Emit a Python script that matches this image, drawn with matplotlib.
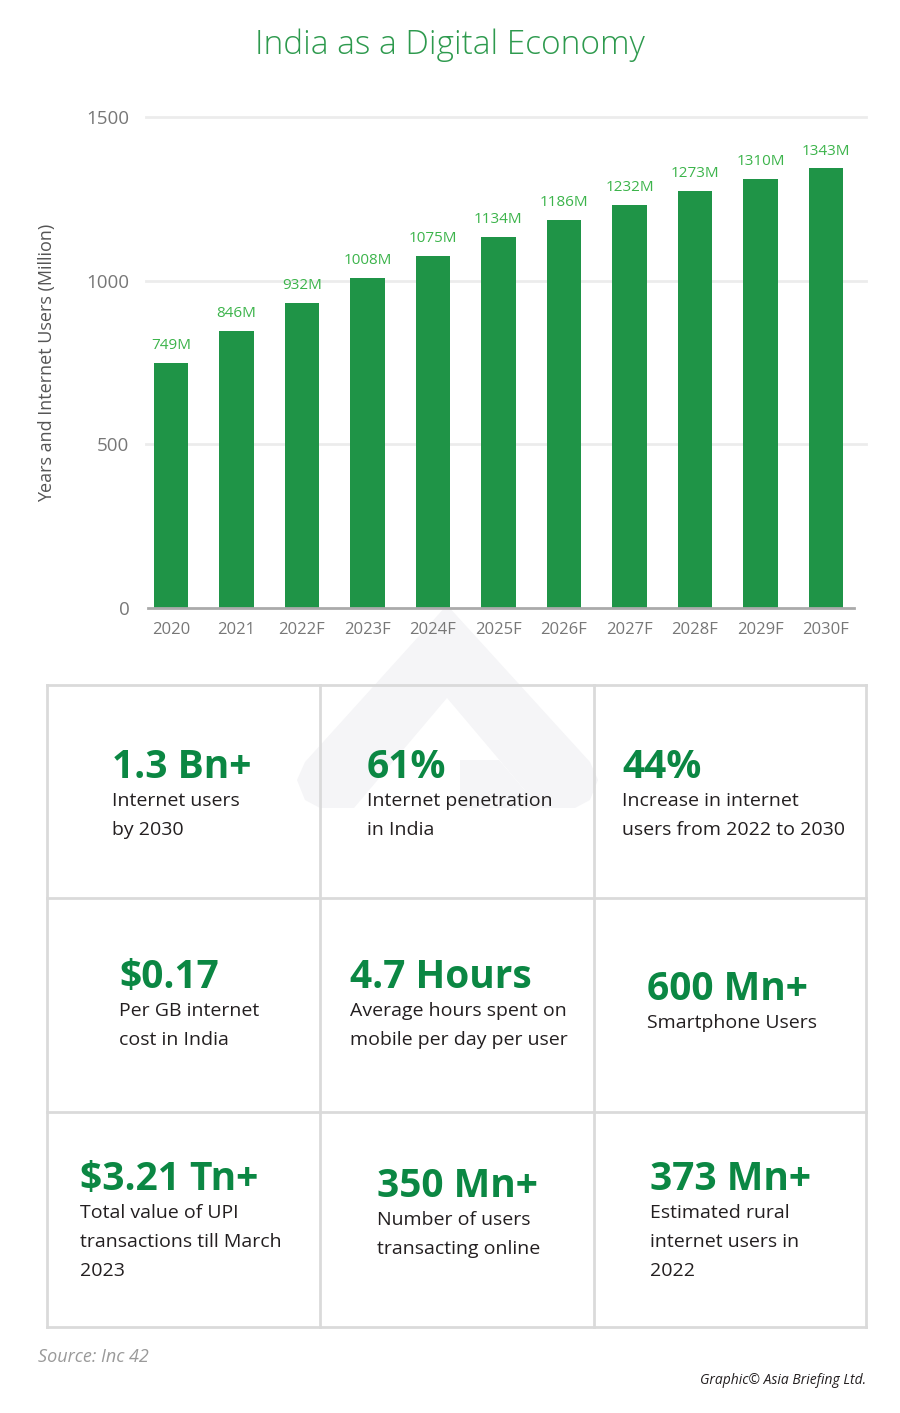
import numpy as np
import matplotlib.pyplot as plt
from matplotlib.patches import Polygon

years = ['2020', '2021', '2022F', '2023F', '2024F', '2025F', '2026F',
         '2027F', '2028F', '2029F', '2030F']
users = [749, 846, 932, 1008, 1075, 1134, 1186, 1232, 1273, 1310, 1343]
yticks = [0, 500, 1000, 1500]

stats = [
    ['1.3 Bn+', 'Internet users\nby 2030'],
    ['61%', 'Internet penetration\nin India'],
    ['44%', 'Increase in internet\nusers from 2022 to 2030'],
    ['$0.17', 'Per GB internet\ncost in India'],
    ['4.7 Hours', 'Average hours spent on\nmobile per day per user'],
    ['600 Mn+', 'Smartphone Users'],
    ['$3.21 Tn+', 'Total value of UPI\ntransactions till March\n2023'],
    ['350 Mn+', 'Number of users\ntransacting online'],
    ['373 Mn+', 'Estimated rural\ninternet users in\n2022'],
]
# left edge and big-number top (pixels) for each cell
stat_pos = [(112, 748), (367, 748), (622, 748),
            (119, 958), (350, 958), (647, 970),
            (80, 1160), (377, 1167), (650, 1160)]

bar_green = '#1f9447'
label_green = '#3cb44b'
big_green = '#0b8743'

W, H = 900, 1413
fig = plt.figure(figsize=(W / 100, H / 100), dpi=100)

# overlay in pixel coordinates
bg = fig.add_axes([0, 0, 1, 1])
bg.set_xlim(0, W)
bg.set_ylim(H, 0)
bg.axis('off')
bg.set_zorder(0)

# faint watermark logo
wm = '#f5f5f7'
outer = [(447, 605), (590, 762), (598, 780), (590, 800), (575, 808),
         (320, 808), (305, 800), (297, 780), (305, 762)]
inner = [(447, 698), (540, 808), (354, 808)]
notch = [(460, 760), (499, 760), (540, 808), (460, 808)]
bg.add_patch(Polygon(outer, closed=True, color=wm, lw=0, zorder=0))
bg.add_patch(Polygon(inner, closed=True, color='white', lw=0, zorder=0))
bg.add_patch(Polygon(notch, closed=True, color=wm, lw=0, zorder=0))

# stats grid
gc = '#dadada'
for x in [47, 320, 594, 866]:
    bg.plot([x, x], [685, 1327], color=gc, lw=2, zorder=1)
for y in [685, 898, 1112, 1327]:
    bg.plot([47, 866], [y, y], color=gc, lw=2, zorder=1)

for (big, desc), (x, y) in zip(stats, stat_pos):
    bg.text(x, y, big, fontsize=28, fontweight='bold', color=big_green,
            family='Open Sans', va='top', ha='left', zorder=2)
    bg.text(x, y + 44, desc, fontsize=14, color='#231f20', family='Open Sans',
            va='top', ha='left', linespacing=1.78, zorder=2)

bg.text(450, 45, 'India as a Digital Economy', fontsize=24, color='#2e9a4e',
        family='Open Sans', fontweight='light', ha='center', va='center')
bg.text(38, 1357, 'Source: Inc 42', fontsize=13, color='#9a9a9a',
        family='Open Sans', style='italic', ha='left', va='center')
bg.text(866, 1380, 'Graphic\u00a9 Asia Briefing Ltd.', fontsize=10,
        color='#231f20', family='Open Sans', style='italic', ha='right',
        va='center')

# bar chart
ax = fig.add_axes([146 / W, 1 - 608 / H, 720 / W, 491 / H])
ax.set_zorder(1)
ax.patch.set_alpha(0)
x = np.arange(len(years))
ax.bar(x, users, width=0.53, color=bar_green, zorder=2)
for xi, v in zip(x, users):
    ax.text(xi, v + 30, f'{v}M', ha='center', va='bottom', fontsize=11,
            color=label_green, family='Open Sans')
ax.set_xlim(-0.38, 10.61)
ax.set_ylim(0, 1500)
for t in yticks[1:]:
    ax.axhline(t, color='#ececec', lw=2, zorder=0, clip_on=False)
ax.plot([-0.35, 10.43], [0, 0], color='#aaaaaa', lw=2, zorder=3,
        clip_on=False)
ax.set_yticks(yticks)
ax.set_yticklabels([str(t) for t in yticks], fontsize=13.5, color='#777777',
                   family='Open Sans')
ax.set_xticks(x)
ax.set_xticklabels(years, fontsize=12, color='#777777', family='Open Sans')
ax.tick_params(length=0)
ax.tick_params(axis='y', pad=12)
ax.tick_params(axis='x', pad=10)
for s in ax.spines.values():
    s.set_visible(False)
ax.set_ylabel('Years and Internet Users (Million)', fontsize=13,
              color='#555555', family='Open Sans', labelpad=22)

fig.savefig('out.png', dpi=100)
